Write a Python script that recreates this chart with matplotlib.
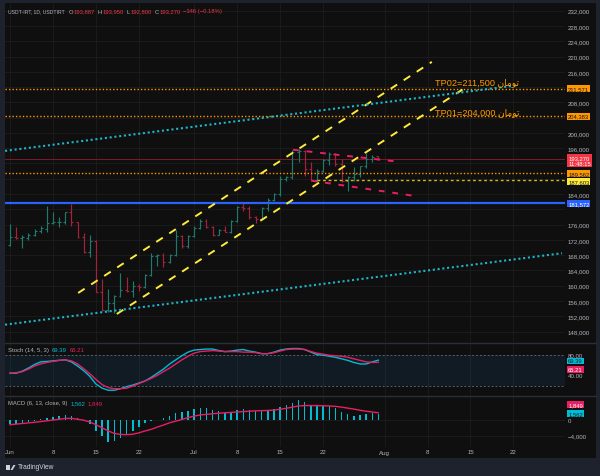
import matplotlib
matplotlib.use('Agg')

from matplotlib import pyplot as plt
from matplotlib.lines import Line2D

W, H = 600, 477
FONT = ['Liberation Sans', 'DejaVu Sans']
plt.rcParams['font.family'] = FONT

BG = '#0f0f0f'
FRAME = '#1e222d'
GRID = '#1d1d1d'
TXT = '#b2b5be'
UP = '#1f7a6c'
DOWN = '#a3243a'
CYAN = '#00bcd4'
PINK = '#e91e63'
ORANGE = '#ff9800'
YELLOW = '#ffeb3b'
BLUE = '#2962ff'
RED = '#f23645'

# daily bars, day 0 = Jun 1
days = list(range(61))
opens = [170700, 172800, 172400, 172500, 173400, 174400, 174800, 176400, 176600, 176800,
         179200, 176600, 172700, 168900, 171800, 158400, 153700, 155500, 157400, 159000,
         158500, 160000, 159600, 162800, 167900, 168000, 166100, 168000, 173100, 170300,
         173100, 175000, 177000, 175300, 173300, 174600, 174100, 177000, 180500, 180300,
         177900, 177500, 180300, 182500, 184000, 187900, 188400, 194900, 195300, 190600,
         187700, 190100, 193000, 194500, 191900, 187500, 188400, 189300, 191300, 193200,
         193887]
highs = [176100, 175300, 173300, 173700, 174800, 175700, 180800, 179400, 177900, 179400,
         181400, 176800, 173700, 173300, 171900, 161800, 159100, 157600, 163300, 162200,
         161300, 160400, 163100, 168600, 168300, 168600, 168300, 174700, 173300, 173300,
         175700, 177500, 177500, 175600, 174800, 175600, 177300, 180800, 181800, 180800,
         178300, 180500, 182900, 184400, 188700, 188800, 195600, 195800, 195600, 192300,
         190600, 193200, 195100, 194700, 193200, 188800, 191000, 191400, 194700, 194200,
         193950]
lows = [170400, 172200, 170000, 172000, 173100, 173800, 174000, 176100, 175300, 176100,
        175600, 172400, 168600, 167400, 158300, 153500, 153200, 152900, 157000, 158300,
        157000, 158700, 159300, 162600, 165200, 164800, 165900, 167700, 169800, 170000,
        172700, 174800, 175000, 173100, 173200, 174000, 173800, 176800, 179600, 177500,
        176400, 177400, 179600, 182300, 183400, 187500, 187900, 192300, 188800, 187500,
        187200, 189700, 191600, 191400, 187200, 184900, 187500, 188400, 190700, 192300,
        192800]
closes = [172800, 172400, 172800, 173400, 174400, 175000, 176400, 176600, 176800, 179200,
          176600, 172700, 168900, 171800, 158400, 153700, 155500, 157400, 159000, 158500,
          160000, 159600, 162800, 167900, 168000, 166100, 168000, 173100, 170300, 173100,
          175000, 177000, 175300, 173300, 174600, 174100, 177000, 180500, 180300, 177900,
          177500, 180300, 182500, 184000, 187900, 188400, 194900, 195300, 190600, 187700,
          190100, 193000, 194500, 191900, 187500, 188400, 189300, 191300, 193200, 193616,
          193270]

stoch_k = [44, 44, 48, 54, 61, 66, 67, 68, 69, 70,
           66, 58, 49, 38, 23, 15, 11, 11, 14, 18,
           21, 25, 29, 36, 44, 52, 62, 70, 78, 85,
           89, 90, 91, 91, 88, 86, 87, 89, 90, 87,
           85, 82, 82, 85, 89, 91, 92, 92, 90, 85,
           80, 79, 77, 75, 72, 69, 65, 62, 62, 66,
           69.39]
stoch_d = [44, 45, 47, 52, 58, 62, 65, 67, 69, 70,
           68, 62, 53, 43, 32, 22, 16, 14, 14, 15,
           19, 24, 29, 34, 40, 47, 54, 62, 70, 77,
           83, 86, 87, 88, 87, 86, 86, 86, 85, 85,
           84, 82, 82, 84, 87, 90, 91, 91, 90, 86,
           83, 81, 79, 78, 77, 75, 72, 69, 66, 65,
           65.21]

macd = [-1000, -1000, -900, -600, -300, 200, 600, 850, 950, 1300,
        1100, 400, -200, -1000, -2750, -4000, -5560, -5300, -4530, -3600,
        -2750, -1900, -850, -170, 100, 430, 950, 1800, 2140, 2400,
        2820, 3080, 3080, 2560, 2310, 1880, 1970, 2650, 2820, 2480,
        2220, 2220, 2220, 2820, 3330, 3850, 4360, 5130, 4700, 3500,
        3500, 3500, 3500, 3080, 2140, 1450, 1030, 1200, 1620, 1710,
        1562]
signal = [-1200, -1050, -900, -750, -580, -400, -220, 0, 180, 400,
          420, 200, -50, -500, -1200, -2000, -2800, -3450, -3700, -3760,
          -3650, -3300, -2800, -2400, -1800, -1300, -700, -300, 150, 600,
          1000, 1300, 1450, 1600, 1750, 1850, 1950, 2050, 2150, 2250,
          2350, 2400, 2450, 2550, 2750, 3000, 3300, 3600, 3700, 3700,
          3700, 3650, 3600, 3500, 3300, 3050, 2800, 2500, 2250, 2050,
          1849]

# drawings: (day, price) anchors
channel_up_d, channel_up_p = [11.1, 68.7], [158100, 218600]
channel_lo_d, channel_lo_p = [17.4, 74.6], [152600, 212300]
cyan_up_d, cyan_up_p = [-0.8, 82.7], [195300, 212500]
cyan_lo_d, cyan_lo_p = [-0.8, 89.9], [149800, 168500]
wedge_up_d, wedge_up_p = [46.1, 62.5], [195600, 192600]
wedge_lo_d, wedge_lo_p = [49.1, 65.5], [187500, 183600]

tp2_level, tp1_level = 211571, 204383
support_level = 181572
orange_level = 189562
yellow_level, yellow_start = 187603, 50
last_price = 193270
countdown = '11:48:15'

price_ticks = list(range(148000, 232001, 4000))
hidden_ticks = [212000, 204000, 192000, 188000, 180000]   # covered by the value boxes
date_ticks = [0, 7, 14, 21, 30, 37, 44, 51, 61, 68, 75, 82]
date_labels = ['Jun', '8', '15', '22', 'Jul', '8', '15', '22', 'Aug', '8', '15', '22']

TOMAN = '\ufee5\ufe8e\ufee3\ufeee\ufe97'


def frac(x0, y0, x1, y1):
    return [x0 / W, 1 - y1 / H, (x1 - x0) / W, (y1 - y0) / H]


def ftext(x, y, s, color=TXT, size=4.3, **kw):
    return fig.text(x / W, 1 - y / H, s, color=color, fontsize=size, va='center',
                    ha='left', **kw)


def text_row(x, y, pieces):
    # pieces: (text, colour, size, gap after in px)
    renderer = fig.canvas.get_renderer()
    for s, color, size, gap in pieces:
        t = ftext(x, y, s, color, size)
        x = t.get_window_extent(renderer).x1 + gap


def style(ax):
    ax.set_facecolor(BG)
    for s in ax.spines.values():
        s.set_visible(False)
    ax.yaxis.tick_right()
    ax.tick_params(length=0, labelcolor=TXT, labelsize=4.4, pad=2.2)
    ax.set_xlim(-0.81, 90.39)
    ax.set_xticks(date_ticks)
    ax.set_xticklabels([])
    ax.grid(True, color=GRID, lw=0.6)
    ax.set_axisbelow(True)


def value_box(ax, text, y, fc, tc, dy=0):
    ax.annotate(text, xy=(1, y), xycoords=ax.get_yaxis_transform(), xytext=(2.2, dy),
                textcoords='offset points', ha='left', va='center', fontsize=4.2, color=tc,
                linespacing=1.1, annotation_clip=False, zorder=10,
                bbox=dict(boxstyle='square,pad=0.16', fc=fc, ec='none'))


fig = plt.figure(figsize=(W / 100, H / 100), dpi=100, facecolor=FRAME)
back = fig.add_axes(frac(5, 4, 596, 459))
back.set_facecolor(BG)
back.set_xticks([])
back.set_yticks([])
for s in back.spines.values():
    s.set_visible(False)

# ---- price pane
ax = fig.add_axes(frac(5, 4, 565, 343))
style(ax)
ax.set_ylim(145266, 234016)
ax.set_yticks(price_ticks)
ax.set_yticklabels(['' if v in hidden_ticks else f'{v:,}' for v in price_ticks])

colors = [UP if c >= o else DOWN for o, c in zip(opens, closes)]
ax.vlines(days, lows, highs, colors=colors, lw=0.85, zorder=3)
ax.hlines(opens, [d - 0.32 for d in days], days, colors=colors, lw=0.85, zorder=3)
ax.hlines(closes, days, [d + 0.32 for d in days], colors=colors, lw=0.85, zorder=3)

ax.axhline(support_level, color=BLUE, lw=1.6, zorder=4)
for lv in (tp2_level, tp1_level, orange_level):
    ax.axhline(lv, color=ORANGE, lw=1.0, ls=(0, (1, 1.5)), zorder=4)
ax.axhline(last_price, color='#7c1b2a', lw=0.7, zorder=2)
ax.plot([yellow_start, 90.39], [yellow_level, yellow_level], color='#cdb81f', lw=1.0,
        ls=(0, (2, 2)), zorder=4)

ax.plot(channel_up_d, channel_up_p, color=YELLOW, lw=1.4, ls=(0, (4, 4)), zorder=5)
ax.plot(channel_lo_d, channel_lo_p, color=YELLOW, lw=1.4, ls=(0, (4, 4)), zorder=5)
ax.plot(cyan_up_d, cyan_up_p, color='#1fb5c9', lw=1.5, ls=(0, (1, 1.3)), zorder=5)
ax.plot(cyan_lo_d, cyan_lo_p, color='#1fb5c9', lw=1.5, ls=(0, (1, 1.3)), zorder=5)
ax.plot(wedge_up_d, wedge_up_p, color=PINK, lw=1.4, ls=(0, (3, 4)), zorder=5)
ax.plot(wedge_lo_d, wedge_lo_p, color=PINK, lw=1.4, ls=(0, (3, 4)), zorder=5)

ax.annotate(f'TP02={211500:,} ' + TOMAN, xy=(69.2, tp2_level), xytext=(0, 5.2),
            textcoords='offset points', color=ORANGE, fontsize=6.6, va='center', zorder=6)
ax.annotate(f'TP01={204000:,} ' + TOMAN, xy=(69.2, tp1_level), xytext=(0, 3.5),
            textcoords='offset points', color=ORANGE, fontsize=6.6, va='center', zorder=6)

value_box(ax, f'{tp2_level:,}', tp2_level, ORANGE, '#131722')
value_box(ax, f'{tp1_level:,}', tp1_level, ORANGE, '#131722')
value_box(ax, f'{last_price:,}\n{countdown}', last_price, RED, 'white', dy=-1.3)
value_box(ax, f'{orange_level:,}', orange_level, ORANGE, '#131722', dy=-0.35)
value_box(ax, f'{yellow_level:,}', yellow_level, YELLOW, '#131722', dy=-0.8)
value_box(ax, f'{support_level:,}', support_level, BLUE, 'white')

# ---- stochastic pane
ax2 = fig.add_axes(frac(5, 344, 565, 396))
style(ax2)
ax2.set_ylim(1.75, 102.7)
ax2.set_yticks([80, 40])
ax2.set_yticklabels(['80.00', '40.00'])
ax2.grid(False, axis='y')
ax2.axhspan(20, 80, color='#2196f3', alpha=0.09, lw=0)
ax2.axhline(80, color='#5d606b', lw=0.7, ls=(0, (2, 2)))
ax2.axhline(20, color='#5d606b', lw=0.7, ls=(0, (2, 2)))
ax2.plot(days, stoch_k, color=CYAN, lw=1.0, zorder=3)
ax2.plot(days, stoch_d, color=PINK, lw=1.0, zorder=3)
value_box(ax2, f'{stoch_k[-1]:.2f}', stoch_k[-1], CYAN, '#131722', dy=-0.6)
value_box(ax2, f'{stoch_d[-1]:.2f}', stoch_d[-1], PINK, 'white', dy=-5.2)

# ---- MACD pane
ax3 = fig.add_axes(frac(5, 397, 565, 448))
style(ax3)
ax3.set_ylim(-6923, 6154)
ax3.set_yticks([0, -4000])
ax3.set_yticklabels(['0', '\u22124,000'])
ax3.bar(days, macd, width=0.24, color=CYAN, zorder=3)
ax3.plot(days, signal, color=PINK, lw=1.0, zorder=4)
value_box(ax3, f'{signal[-1]:,}', signal[-1], PINK, 'white', dy=5.8)
value_box(ax3, f'{macd[-1]:,}', macd[-1], CYAN, '#131722')
ax3.set_xticklabels(date_labels)
ax3.tick_params(axis='x', pad=1.8)

# pane separators
for y in (343.5, 396.5):
    fig.add_artist(Line2D([5 / W, 596 / W], [1 - y / H, 1 - y / H], color='#2a2e39', lw=1))

# header legend
chg = closes[-1] - closes[-2]
pct = chg / closes[-2] * 100
chg_txt = (f'{chg:,} ({pct:.2f}%)').replace('-', '\u2212')
text_row(8.5, 12, [('USDT-IRT, 1D, USDTIRT', TXT, 3.7, 3.5),
                   ('O', TXT, 4.2, 0.4), (f'{opens[-1]:,}', RED, 4.2, 3),
                   ('H', TXT, 4.2, 0.4), (f'{highs[-1]:,}', RED, 4.2, 3),
                   ('L', TXT, 4.2, 0.4), (f'{lows[-1]:,}', RED, 4.2, 3),
                   ('C', TXT, 4.2, 0.4), (f'{closes[-1]:,}', RED, 4.2, 3),
                   (chg_txt, RED, 4.2, 0)])
text_row(8.5, 351, [('Stoch (14, 5, 3)', TXT, 4.3, 2.5),
                    (f'{stoch_k[-1]:.2f}', CYAN, 4.3, 2.5),
                    (f'{stoch_d[-1]:.2f}', PINK, 4.3, 0)])
text_row(8.5, 403.3, [('MACD (6, 13, close, 9)', TXT, 4.2, 2.5),
                      (f'{macd[-1]:,}', CYAN, 4.3, 2.5),
                      (f'{signal[-1]:,}', PINK, 4.3, 0)])

ftext(17.5, 468, 'TradingView', '#d1d4dc', 4.8)
fig.add_artist(plt.Rectangle((5.5 / W, 1 - 471 / H), 4 / W, 5 / H, color='#d1d4dc', lw=0))
fig.add_artist(plt.Polygon([(10.5 / W, 1 - 471 / H), (13.5 / W, 1 - 466 / H),
                            (15.5 / W, 1 - 466 / H), (12.5 / W, 1 - 471 / H)],
                           color='#d1d4dc', lw=0))

fig.savefig('out.png', dpi=100, facecolor=FRAME)
